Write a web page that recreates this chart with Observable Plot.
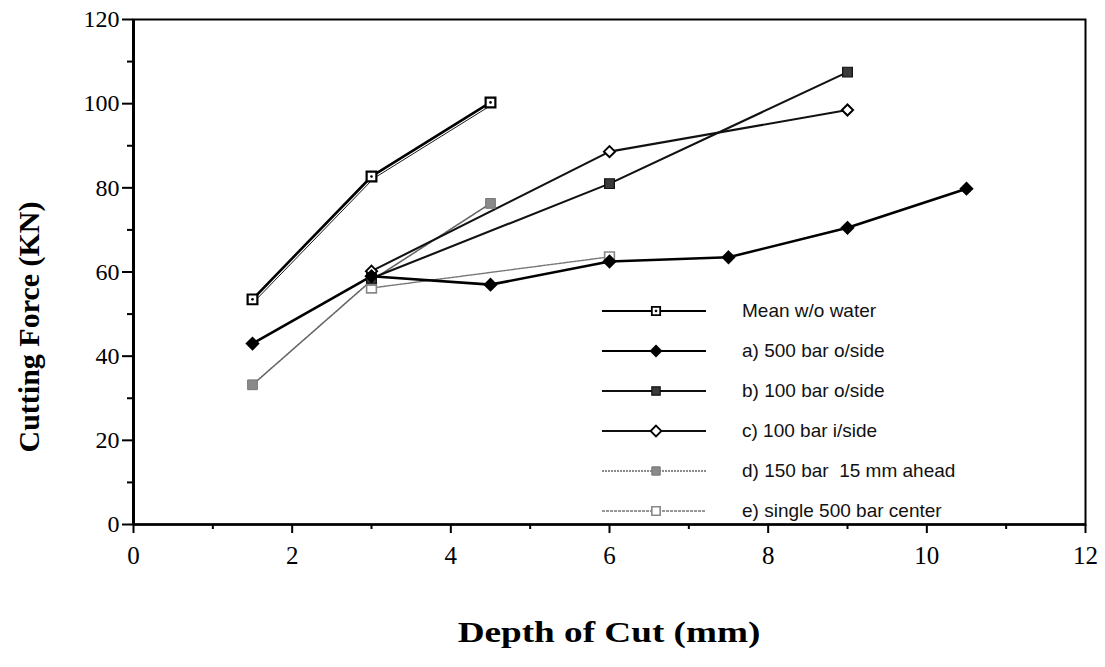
<!DOCTYPE html>
<html>
<head>
<meta charset="utf-8">
<script src="https://cdn.jsdelivr.net/npm/d3@7"></script>
<script src="https://cdn.jsdelivr.net/npm/@observablehq/plot@0.6"></script>
<style>
  html, body { margin: 0; padding: 0; background: #fff; }
  #wrap { position: relative; width: 1105px; height: 667px; overflow: hidden; }
  #legend { position: absolute; left: 600px; top: 291px; font-family: "Liberation Sans", Arial, sans-serif; font-size: 19px; color: #111; }
  #legend .row { display: flex; align-items: center; height: 40px; white-space: pre; }
  #legend svg { margin-right: 34px; }
  .title { position: absolute; font-family: "Liberation Serif", "Times New Roman", serif; font-weight: bold; color: #000; white-space: nowrap; }
  #xtitle { left: 609px; top: 632px; font-size: 30px; transform: translate(-50%, -50%) scaleX(1.24); }
  #ytitle { left: 29px; top: 327px; font-size: 30px; transform: translate(-50%, -50%) rotate(-90deg); }
</style>
</head>
<body>
<div id="wrap">
  <div id="legend"></div>
  <div id="xtitle" class="title"></div>
  <div id="ytitle" class="title"></div>
</div>
<script>
// ---- data ----
const xTitle = "Depth of Cut (mm)";
const yTitle = "Cutting Force (KN)";
const seriesNames = ["Mean w/o water", "a) 500 bar o/side", "b) 100 bar o/side", "c) 100 bar i/side", "d) 150 bar  15 mm ahead", "e) single 500 bar center"];
const meanDepth = [1.5, 3, 4.5];
const meanForce = [53.5, 82.7, 100.3];
const aDepth = [1.5, 3, 4.5, 6, 7.5, 9, 10.5];
const aForce = [43, 59, 57, 62.5, 63.5, 70.5, 79.8];
const bDepth = [3, 6, 9];
const bForce = [58.5, 81, 107.5];
const cDepth = [3, 6, 9];
const cForce = [60.2, 88.6, 98.5];
const dDepth = [1.5, 3, 4.5];
const dForce = [33.2, 58, 76.3];
const eDepth = [3, 6];
const eForce = [56.2, 63.6];
const xTicks = [0, 2, 4, 6, 8, 10, 12];
const xMinor = [1, 3, 5, 7, 9, 11];
const yTicks = [0, 20, 40, 60, 80, 100, 120];
const yMinor = [10, 30, 50, 70, 90, 110];

const toRows = (xs, ys) => xs.map((x, i) => ({x, y: ys[i]}));
const mean = toRows(meanDepth, meanForce);
const a = toRows(aDepth, aForce);
const b = toRows(bDepth, bForce);
const c = toRows(cDepth, cForce);
const d = toRows(dDepth, dForce);
const e = toRows(eDepth, eForce);

const styles = {
  mean: {line: "#000", lw: 2.6, symbol: "square", fill: "#fff", stroke: "#000", sw: 2.2, r: 5.5},
  a: {line: "#000", lw: 2.6, symbol: "diamond2", fill: "#000", stroke: "#000", sw: 1.5, r: 5.5},
  b: {line: "#111", lw: 2.1, symbol: "square", fill: "#3a3a3a", stroke: "#111", sw: 1.2, r: 5.5},
  c: {line: "#111", lw: 2.1, symbol: "diamond2", fill: "#fff", stroke: "#000", sw: 2, r: 5},
  d: {line: "#666", lw: 1.6, symbol: "square", fill: "#8a8a8a", stroke: "#777", sw: 1, r: 5.5},
  e: {line: "#777", lw: 1.4, symbol: "square", fill: "#fff", stroke: "#888", sw: 1.6, r: 5.5}
};

const serif = "'Liberation Serif', 'Times New Roman', serif";

function lineMark(data, s, extra = {}) {
  return Plot.line(data, {x: "x", y: "y", stroke: s.line, strokeWidth: s.lw, ...extra});
}
function dotMark(data, s) {
  return Plot.dot(data, {x: "x", y: "y", symbol: s.symbol, r: s.r, fill: s.fill, stroke: s.stroke, strokeWidth: s.sw});
}

const chart = Plot.plot({
  width: 1105,
  height: 667,
  marginLeft: 133,
  marginRight: 20,
  marginTop: 19,
  marginBottom: 143,
  x: {domain: [0, 12]},
  y: {domain: [0, 120]},
  style: {fontFamily: serif, background: "#fff", overflow: "visible"},
  marks: [
    Plot.frame({stroke: "#000", strokeWidth: 2}),
    Plot.axisY({ticks: yTicks, tickSize: 11, tickPadding: 3, fontSize: 24, label: null, strokeWidth: 2}),
    Plot.axisY({ticks: yMinor, tickSize: 6, text: null, label: null, strokeWidth: 2}),
    Plot.axisX({ticks: xTicks, tickSize: 9, tickPadding: 13, fontSize: 25, label: null, strokeWidth: 2}),
    Plot.axisX({ticks: xMinor, tickSize: 5, text: null, label: null, strokeWidth: 2}),
    Plot.ruleX([0], {stroke: "#000", strokeWidth: 3}),
    Plot.ruleY([0], {stroke: "#000", strokeWidth: 2.5}),
    // lines
    lineMark(e, styles.e, {strokeDasharray: "3,1"}),
    lineMark(d, styles.d, {strokeDasharray: "2,1"}),
    lineMark(c, styles.c),
    lineMark(b, styles.b),
    lineMark(a, styles.a),
    lineMark(mean, styles.mean, {dx: 2, dy: 2, strokeWidth: 0.9}),
    lineMark(mean, styles.mean),
    // markers
    dotMark(e, styles.e),
    dotMark(d, styles.d),
    dotMark(c, styles.c),
    dotMark(b, styles.b),
    dotMark(a, styles.a),
    dotMark(mean, styles.mean),
    Plot.dot(mean, {x: "x", y: "y", r: 1.3, fill: "#000"})
  ]
});
document.getElementById("wrap").prepend(chart);
document.getElementById("xtitle").textContent = xTitle;
document.getElementById("ytitle").textContent = yTitle;

// ---- legend ----
const legendKeys = ["mean", "a", "b", "c", "d", "e"];
const legendDash = {mean: null, a: null, b: null, c: null, d: "2,1", e: "3,1"};
const legend = document.getElementById("legend");
legendKeys.forEach((k, i) => {
  const s = styles[k];
  const row = document.createElement("div");
  row.className = "row";
  const svg = d3.create("svg").attr("width", 108).attr("height", 20);
  svg.append("line").attr("x1", 2).attr("x2", 106).attr("y1", 10).attr("y2", 10)
    .attr("stroke", s.line).attr("stroke-width", Math.min(s.lw, 2))
    .attr("stroke-dasharray", legendDash[k]);
  const sym = (s.symbol === "diamond2" ? d3.symbolDiamond2 : d3.symbolSquare);
  const size = s.symbol === "diamond2" ? 75 : 70;
  svg.append("path").attr("d", d3.symbol(sym, size)()).attr("transform", "translate(56,10)")
    .attr("fill", s.fill).attr("stroke", s.stroke).attr("stroke-width", Math.min(s.sw, 1.8));
  if (k === "mean") svg.append("circle").attr("cx", 56).attr("cy", 10).attr("r", 1.3).attr("fill", "#000");
  row.appendChild(svg.node());
  const span = document.createElement("span");
  span.textContent = seriesNames[i];
  row.appendChild(span);
  legend.appendChild(row);
});
</script>
</body>
</html>
